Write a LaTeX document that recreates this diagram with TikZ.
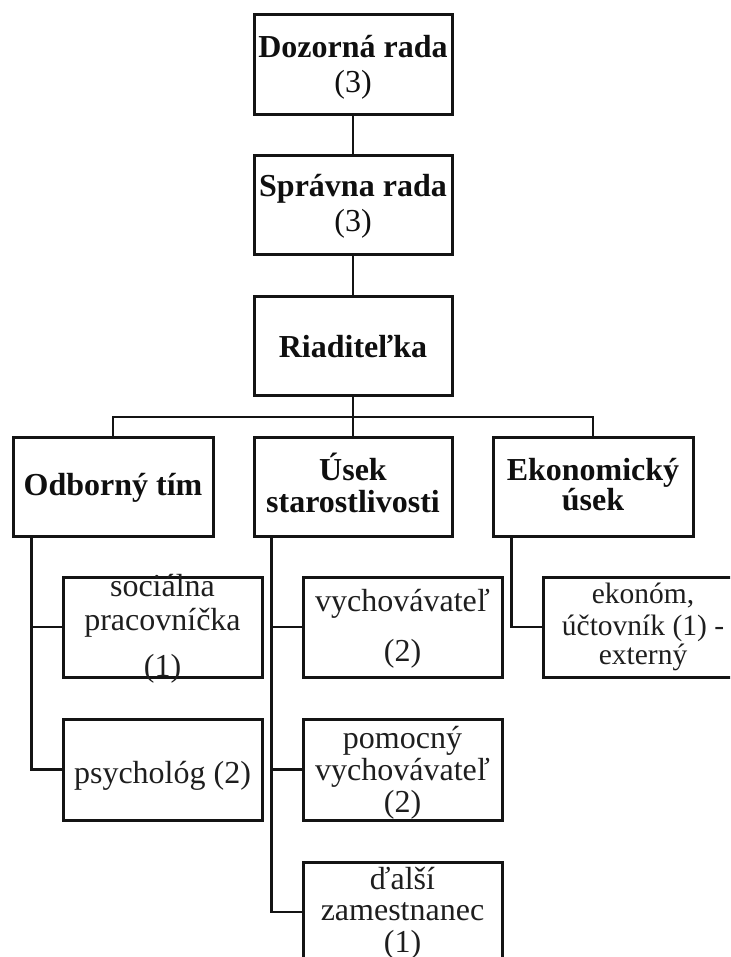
\documentclass[tikz,border=0pt]{standalone}
\usepackage{fontspec}
\setmainfont{Liberation Serif}
\definecolor{ln}{RGB}{20,20,20}
\definecolor{tx}{RGB}{15,15,15}
\definecolor{tl}{RGB}{30,30,30}
\begin{document}
\begin{tikzpicture}[x=1pt,y=-1pt,
  box/.style={draw=ln, line width=3pt, minimum width=#1, minimum height=100pt, inner sep=0pt},
  box/.default=198pt,
  ln/.style={draw=ln, line width=2.8pt},
  tb/.style={anchor=base, inner sep=0pt, text=tx, font=\fontsize{32}{36}\selectfont\bfseries},
  tl/.style={anchor=base, inner sep=0pt, text=tl, font=\fontsize{32}{36}\selectfont},
  ts/.style={tl, font=\fontsize{29.5}{34}\selectfont},
  tr/.style={tl, text=tx}]
\useasboundingbox (0,0) rectangle (730,957);
\clip (0,0) rectangle (730,957);
% boxes
\node[box] (dr) at (353,65) {};
\node[box, minimum height=99pt] (sr) at (353,205.5) {};
\node[box, minimum height=99pt] (ri) at (353,345.5) {};
\node[box=200pt, minimum height=99pt] (od) at (113,486.5) {};
\node[box, minimum height=99pt] (us) at (353,486.5) {};
\node[box=200pt, minimum height=99pt] (ek) at (593,486.5) {};
\node[box=199pt] (sp) at (162.5,627) {};
\node[box=199pt, minimum height=101pt] (ps) at (162.5,769.5) {};
\node[box=199pt] (vy) at (402.5,627) {};
\node[box=199pt, minimum height=101pt] (po) at (402.5,769.5) {};
\node[box=199pt] (da) at (402.5,912) {};
\node[box=200pt] (ekb) at (643,627) {};
% texts
\node[tb] (dr1) at (353,58) {Dozorná rada};
\node[tr] (dr2) at (353,93) {(3)};
\node[tb] (sr1) at (353,197) {Správna rada};
\node[tr] (sr2) at (353,232) {(3)};
\node[tb] (ri1) at (353,357.5) {Riaditeľka};
\node[tb] (od1) at (113,495.5) {Odborný tím};
\node[tb] (us1) at (353,480) {Úsek};
\node[tb] (us2) at (353,512) {starostlivosti};
\node[tb] (ek1) at (593,480) {Ekonomický};
\node[tb] (ek2) at (593,510) {úsek};
\node[tl] (sp1) at (162.5,596.5) {sociálna};
\node[tl] (sp2) at (162.5,630.5) {pracovníčka};
\node[tl] (sp3) at (162.5,676) {(1)};
\node[tl] (ps1) at (162.5,783) {psychológ (2)};
\node[tl] (vy1) at (402.5,611.5) {vychovávateľ};
\node[tl] (vy2) at (402.5,661) {(2)};
\node[tl] (po1) at (402.5,748) {pomocný};
\node[tl] (po2) at (402.5,780) {vychovávateľ};
\node[tl] (po3) at (402.5,812) {(2)};
\node[tl] (da1) at (402.5,889) {ďalší};
\node[tl] (da2) at (402.5,920) {zamestnanec};
\node[tl] (da3) at (402.5,952) {(1)};
\node[ts] (eb1) at (643,603) {ekonóm,};
\node[ts] (eb2) at (643,635) {účtovník (1) -};
\node[ts] (eb3) at (643,664) {externý};
% connectors
\draw[ln] (dr) -- (sr);
\draw[ln] (sr) -- (ri);
\draw[ln] (ri.south) -- ++(0,20.5) coordinate (bar);
\draw[ln] (od.north) |- (bar) -| (ek.north);
\draw[ln] (bar) -- (us.north);
\coordinate (odl) at ([xshift=20pt]od.south west);
\coordinate (usl) at ([xshift=19pt]us.south west);
\coordinate (ekl) at ([xshift=20pt]ek.south west);
\draw[ln] (odl) |- (ps.west);
\draw[ln] (sp.west) -- (sp.west -| odl);
\draw[ln] (usl) |- (da.west);
\draw[ln] (vy.west) -- (vy.west -| usl);
\draw[ln] (po.west) -- (po.west -| usl);
\draw[ln] (ekl) |- (ekb.west);
\end{tikzpicture}
\end{document}
